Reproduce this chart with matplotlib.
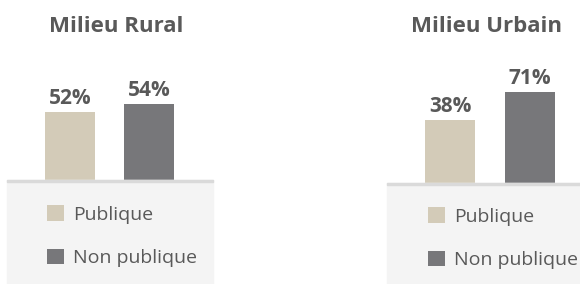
import matplotlib
matplotlib.use("Agg")
import matplotlib.pyplot as plt
from matplotlib.patches import Rectangle

# data
panels = ["Milieu Rural", "Milieu Urbain"]
categories = ["Publique", "Non publique"]
rural = [52, 54]
urbain = [38, 71]
colors = ["#d3cbb8", "#77777a"]
text_color = "#595959"

plt.rcParams["font.family"] = ["Open Sans", "DejaVu Sans"]

W, H = 580, 284
fig = plt.figure(figsize=(W / 100, H / 100), dpi=100)


def px(x0, y0, x1, y1):
    # pixel box (top-left origin) -> figure fraction rect
    return [x0 / W, 1 - y1 / H, (x1 - x0) / W, (y1 - y0) / H]


def panel(values, title, box, base_y, centers, ylim, title_x, leg_x, leg_y):
    x0, x1 = box
    # grey legend area
    fig.patches.append(Rectangle((x0 / W, 0), (x1 - x0) / W, 1 - base_y / H,
                                 transform=fig.transFigure, color="#f4f4f4", zorder=0))
    fig.patches.append(Rectangle((x0 / W, 1 - (base_y + 2) / H), (x1 - x0) / W, 2 / H,
                                 transform=fig.transFigure, color="#dadada", zorder=1))

    ax = fig.add_axes(px(x0, 0, x1, base_y))
    step = centers[1] - centers[0]
    ax.set_xlim(-(centers[0] - x0) / step, 1 + (x1 - centers[1]) / step)
    ax.set_ylim(*ylim)
    base = ylim[0]
    bars = ax.bar(range(len(values)), [v - base for v in values], bottom=base,
                  width=50 / step, color=colors, label=categories)
    for b, v in zip(bars, values):
        ax.annotate(f"{v}%", (b.get_x() + b.get_width() / 2, v), xytext=(0, 2),
                    textcoords="offset points", ha="center", va="bottom",
                    fontsize=15, fontweight="bold", color=text_color)
    ax.axis("off")

    fig.text(title_x / W, 1 - 32.5 / H, title, ha="center", va="baseline",
             fontsize=16, fontweight="bold", color=text_color)

    fig.legend(handles=list(bars), labels=categories, loc="upper left",
               bbox_to_anchor=(leg_x / W, 1 - leg_y / H), frameon=False,
               borderpad=0, borderaxespad=0, handlelength=0.875,
               handleheight=0.875, handletextpad=0.46, labelspacing=1.28,
               fontsize=14, labelcolor=text_color)


panel(rural, panels[0], (7, 213), 180, (70, 149), (35, 35 + 180 / 4),
      116, 47, 205)
panel(urbain, panels[1], (387, 580), 183, (450, 530),
      (-36.3, -36.3 + 183 / 0.848), 486.5, 428, 207)

fig.savefig("out.png", dpi=100)
